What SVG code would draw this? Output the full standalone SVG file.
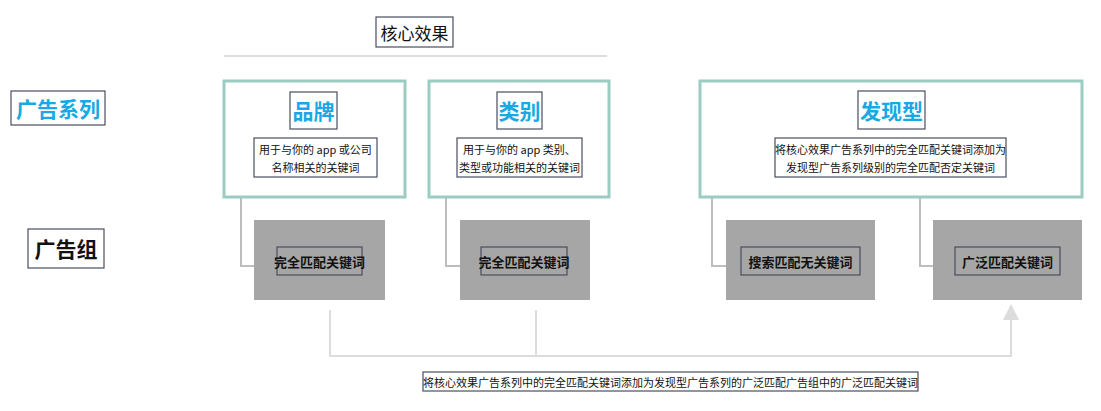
<svg xmlns="http://www.w3.org/2000/svg" width="1101" height="411" viewBox="0 0 1101 411">
<style>
text{font-family:"Noto Sans CJK SC","Liberation Sans",sans-serif;text-anchor:middle;dominant-baseline:central}
.lb{fill:#fff;stroke:#4a4f60;stroke-width:1.2}
.gl{fill:none;stroke:#ebebeb;stroke-width:0}
.camp{fill:#fff;stroke:#9ccbc1;stroke-width:3}
.grp{fill:#a6a6a6}
.gb{fill:none;stroke:#4a4f60;stroke-width:1.2}
.c{fill:none;stroke:#bdbdbd;stroke-width:2}
.c2{fill:none;stroke:#dcdcdc;stroke-width:2}
.blue{fill:#17a9e3;font-weight:bold;font-size:21px}
.s{font-size:11px;fill:#111}
.m{font-size:13px;fill:#111;font-weight:bold}
</style>
<defs><marker id="a" markerWidth="8" markerHeight="8" refX="4" refY="4" orient="auto"><path d="M0,0 L8,4 L0,8z" fill="#dcdcdc"/></marker></defs>
<rect width="1101" height="411" fill="#fff"/>
<g id="title"><rect class="lb" x="376" y="17" width="77" height="30"/><text x="414.5" y="32" font-size="17" fill="#111">核心效果</text>
<line x1="224" y1="56" x2="607" y2="56" stroke="#dedede" stroke-width="2"/></g>
<g id="row1"><rect class="lb" x="11" y="91" width="94" height="34"/><text class="blue" x="58" y="108">广告系列</text></g>
<g id="row2"><rect class="lb" x="28" y="229" width="76" height="39"/><text x="66" y="248" font-size="21" font-weight="bold" fill="#111">广告组</text></g>
<g id="connectors">
<path class="c" d="M241,197 V266 H254"/>
<path class="c" d="M446,197 V266 H460"/>
<path class="c" d="M712,197 V266 H726"/>
<path class="c" d="M920,197 V266 H933"/>
<path class="c2" d="M330,310 V356 H1011 V312" marker-end="url(#a)"/>
<path class="c2" d="M536,310 V356"/>
</g>
<g id="brand"><rect class="camp" x="224" y="81" width="181" height="116"/>
<rect class="lb" x="290" y="92" width="47" height="37"/><text class="blue" x="313.5" y="110">品牌</text>
<rect class="lb" x="254" y="138" width="123" height="39"/><text class="s" x="315.5" y="149">用于与你的 app 或公司</text><text class="s" x="315.5" y="167">名称相关的关键词</text></g>
<g id="category"><rect class="camp" x="429" y="81" width="180" height="116"/>
<rect class="lb" x="497" y="92" width="45" height="37"/><text class="blue" x="519.5" y="110">类别</text>
<rect class="lb" x="457" y="138" width="125" height="39"/><text class="s" x="519.5" y="149">用于与你的 app 类别、</text><text class="s" x="519.5" y="167">类型或功能相关的关键词</text></g>
<g id="discovery"><rect class="camp" x="700" y="81" width="382" height="116"/>
<rect class="lb" x="858" y="91" width="67" height="38"/><text class="blue" x="891.5" y="110">发现型</text>
<rect class="lb" x="775" y="138" width="231" height="39"/><text class="s" x="890.5" y="149">将核心效果广告系列中的完全匹配关键词添加为</text><text class="s" x="890.5" y="167">发现型广告系列级别的完全匹配否定关键词</text></g>
<g id="g1"><rect class="grp" x="254" y="220" width="131" height="80"/><rect class="gb" x="277" y="247" width="85" height="28"/><text class="m" x="319.5" y="261">完全匹配关键词</text></g>
<g id="g2"><rect class="grp" x="460" y="220" width="130" height="80"/><rect class="gb" x="481" y="247" width="86" height="28"/><text class="m" x="524" y="261">完全匹配关键词</text></g>
<g id="g3"><rect class="grp" x="726" y="220" width="149" height="80"/><rect class="gb" x="741" y="247" width="119" height="28"/><text class="m" x="800.5" y="261">搜索匹配无关键词</text></g>
<g id="g4"><rect class="grp" x="933" y="220" width="149" height="80"/><rect class="gb" x="955" y="247" width="105" height="28"/><text class="m" x="1007.5" y="261">广泛匹配关键词</text></g>
<g id="note"><rect class="lb" x="423" y="372" width="495" height="19"/><text class="s" x="670.5" y="381.5">将核心效果广告系列中的完全匹配关键词添加为发现型广告系列的广泛匹配广告组中的广泛匹配关键词</text></g>
</svg>
